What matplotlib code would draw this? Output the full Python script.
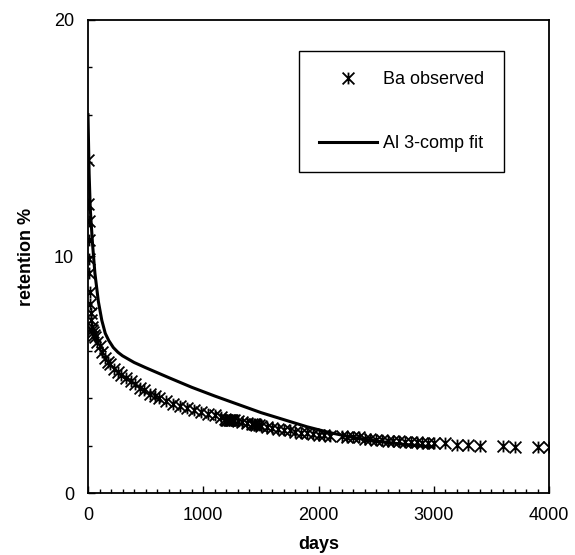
import matplotlib
matplotlib.use("Agg")
import matplotlib.pyplot as plt
from matplotlib.path import Path
from matplotlib.ticker import MultipleLocator

plt.rcParams["font.family"] = ["Liberation Sans", "DejaVu Sans"]

# observed Ba retention (days, %)
obs_days = [0, 3, 5, 7, 9, 12, 15, 18, 22, 27, 32, 38, 45, 55, 65, 80, 100,
            120, 145, 170, 195, 230, 260, 290, 330, 370, 410, 450, 490, 540,
            580, 620, 680, 740, 800, 860, 920, 980, 1040, 1100, 1150, 1190,
            1200, 1210, 1220, 1230, 1240, 1250, 1270, 1300, 1340, 1380, 1420,
            1440, 1450, 1460, 1480, 1500, 1550, 1600, 1650, 1700, 1750, 1800,
            1850, 1900, 1950, 2000, 2050, 2100, 2200, 2250, 2300, 2350, 2400,
            2450, 2500, 2550, 2600, 2650, 2700, 2750, 2800, 2850, 2900, 2950,
            3000, 3100, 3200, 3300, 3400, 3600, 3700, 3900, 4000]
obs_pct = [14.1, 12.2, 11.5, 10.7, 9.9, 9.3, 8.5, 8.0, 7.6, 7.3, 7.0, 6.9,
           6.8, 6.7, 6.6, 6.4, 6.2, 5.95, 5.7, 5.55, 5.45, 5.25, 5.1, 5.0,
           4.85, 4.72, 4.6, 4.45, 4.35, 4.2, 4.12, 4.0, 3.88, 3.78, 3.68,
           3.58, 3.5, 3.42, 3.35, 3.28, 3.2, 3.15, 3.1, 3.1, 3.1, 3.1, 3.1,
           3.1, 3.1, 3.05, 3.0, 2.95, 2.9, 2.9, 2.9, 2.88, 2.88, 2.85, 2.8,
           2.75, 2.7, 2.65, 2.65, 2.6, 2.55, 2.55, 2.5, 2.45, 2.45, 2.4, 2.4,
           2.35, 2.35, 2.35, 2.3, 2.3, 2.25, 2.25, 2.2, 2.2, 2.2, 2.15, 2.15,
           2.15, 2.1, 2.1, 2.1, 2.1, 2.05, 2.05, 2.0, 2.0, 1.95, 1.95, 1.95]

# Al 3-compartment fit (days, %)
fit_days = [0, 10, 20, 40, 60, 90, 120, 150, 180, 220, 260, 300, 400, 500,
            700, 900, 1100, 1300, 1500, 1700, 1900, 2100, 2300, 2500, 2700,
            2900, 3000]
fit_pct = [16.0, 13.5, 12.0, 10.5, 9.3, 8.1, 7.3, 6.75, 6.45, 6.15, 5.95,
           5.8, 5.52, 5.3, 4.88, 4.47, 4.1, 3.75, 3.4, 3.1, 2.8, 2.55, 2.35,
           2.2, 2.08, 1.98, 1.95]

# excel style star marker: X plus vertical bar
star = Path([(-1, -1), (1, 1), (-1, 1), (1, -1), (0, -1), (0, 1)],
            [Path.MOVETO, Path.LINETO] * 3)

fig = plt.figure(figsize=(5.75, 5.55), dpi=100)
ax = fig.add_axes([0.153, 0.1117, 0.802, 0.8523])

ax.plot(obs_days, obs_pct, linestyle="none", marker=star, markersize=8.5,
        markeredgewidth=1.3, color="black", label="Ba observed", zorder=2)
ax.plot(fit_days, fit_pct, color="black", linewidth=2.2,
        label="Al 3-comp fit", zorder=3)

ax.set_xlim(0, 4000)
ax.set_ylim(0, 20)
ax.xaxis.set_major_locator(MultipleLocator(1000))
ax.xaxis.set_minor_locator(MultipleLocator(100))
ax.yaxis.set_major_locator(MultipleLocator(10))
ax.yaxis.set_minor_locator(MultipleLocator(2))
ax.tick_params(which="both", direction="in", labelsize=13, width=1, pad=10)
ax.tick_params(which="major", length=5)
ax.tick_params(which="minor", length=3)
for s in ax.spines.values():
    s.set_linewidth(1.3)

ax.set_xlabel("days", fontsize=13, fontweight="bold", labelpad=9)
ax.set_ylabel("retention %", fontsize=13, fontweight="bold", labelpad=14)

leg = ax.legend(loc="upper left", bbox_to_anchor=(0.458, 0.934),
                borderaxespad=0, fontsize=13, handlelength=3.2,
                handletextpad=0.35, labelspacing=2.6, borderpad=1.1,
                fancybox=False, edgecolor="black", framealpha=1)
leg.get_frame().set_linewidth(1.0)

fig.savefig("out.png", dpi=100)
